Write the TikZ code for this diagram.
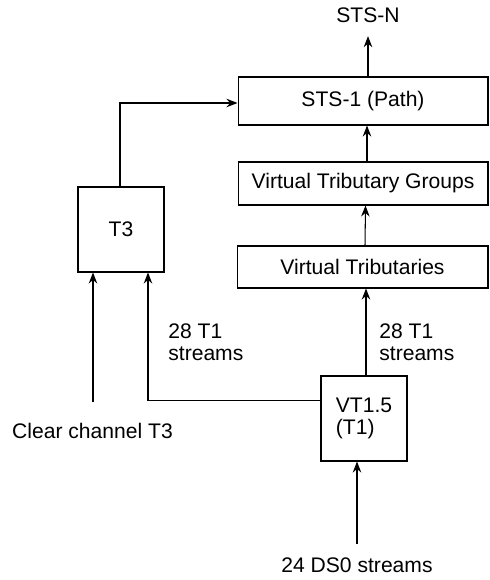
\documentclass[tikz,border=0pt]{standalone}
\usepackage{fontspec}
\setmainfont{Liberation Sans}
\usetikzlibrary{arrows.meta}

\tikzset{
  blk/.style={draw, line width=0.6pt, inner sep=0pt, align=center},
  arr/.style={-{Stealth[length=0.22cm,width=0.17cm]}, line width=0.6pt},
  lbl/.style={inner sep=0pt, align=left, anchor=west},
}

\begin{document}
\begin{tikzpicture}[x=0.02cm, y=-0.02cm, font=\fontsize{12}{12.4}\selectfont]
\useasboundingbox (0,0) rectangle (489,580);
% stacked boxes
\node[blk, minimum width=5cm, minimum height=0.96cm] (sts1) at (363,101) {STS-1 (Path)};
\node[blk, minimum width=5cm, minimum height=0.86cm] (vtg) at (363,183.5) {Virtual Tributary Groups};
\node[blk, minimum width=5.02cm, minimum height=0.84cm] (vt) at (362.5,267) {Virtual Tributaries};
\node[blk, minimum width=1.72cm, minimum height=1.7cm] (t3) at (121,229.5) {T3};
\node[blk, align=left, minimum width=1.72cm, minimum height=1.7cm] (vt15) at (364,418.5) {VT1.5\\(T1)};
% labels
\node (stsn) at (368,15.5) {STS-N};
\node (ccT3) at (92.5,431) {Clear channel T3};
\node (ds0) at (357,565) {24 DS0 streams};
\node[lbl] (lT1) at (168,342.5) {28 T1\\streams};
\node[lbl] (rT1) at (379,342.5) {28 T1\\streams};
\coordinate (ccin) at (93,402);
% connectors
\draw[arr, shorten >=4pt] ([xshift=0.1cm]sts1.north) -- ([xshift=0.1cm]sts1.north |- stsn.south);
\draw[arr] ([xshift=0.08cm]vtg.north) -- ([xshift=0.08cm]sts1.south);
\draw[arr] ([xshift=0.05cm]vt.north) -- ([xshift=0.05cm]vtg.south);
\draw[arr] ([xshift=0.04cm]vt15.north) -- ([xshift=0.04cm]vt15.north |- vt.south);
\draw[arr] ([xshift=-0.02cm]t3.north) |- ([yshift=-0.04cm]sts1.west);
\draw[arr] ([yshift=0.36cm]vt15.west) -| ([xshift=0.54cm]t3.south);
\draw[arr] (ccin) -- (ccin |- t3.south);
\draw[arr, shorten <=4pt] (ds0.north) -- (ds0.north |- vt15.south);
\end{tikzpicture}
\end{document}
